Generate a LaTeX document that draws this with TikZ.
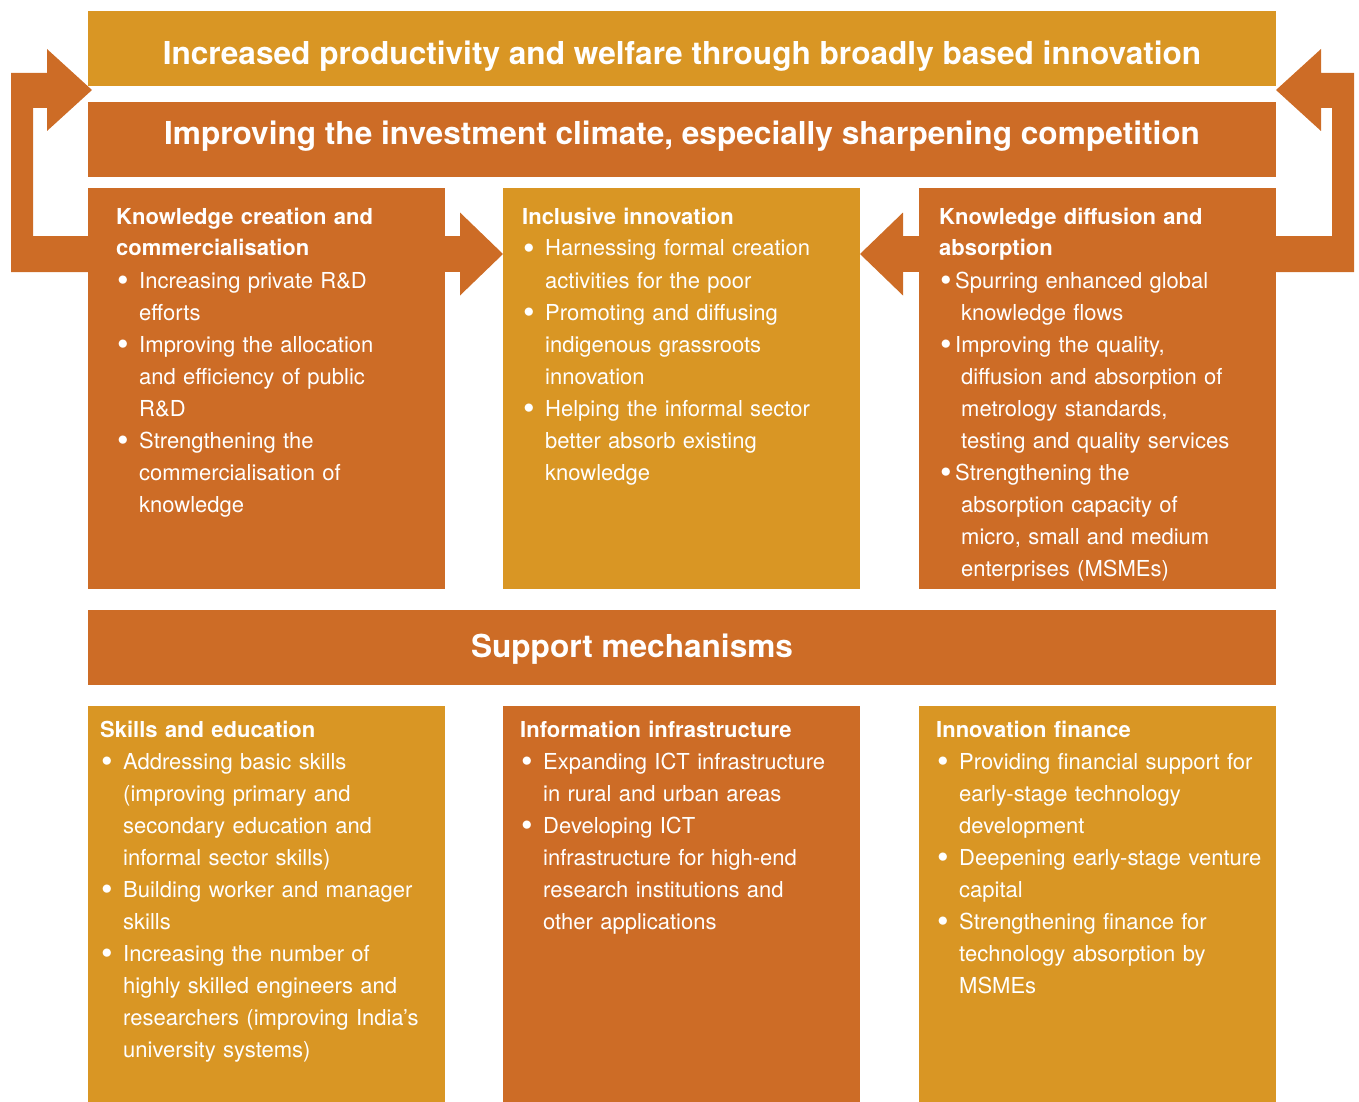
\documentclass[tikz,border=0pt]{standalone}
\usepackage{fontspec}
\usepackage{graphicx}
\setmainfont{TeX Gyre Heros}
\usetikzlibrary{positioning,arrows.meta}
\definecolor{gold}{RGB}{217,150,36}
\definecolor{rust}{RGB}{205,108,38}
\newcommand{\itm}[1][23pt]{\makebox[#1][l]{\hspace{1pt}\raisebox{-3.5pt}{\scalebox{1.5}{\textbullet}}}}
\newcommand{\ind}[1][23pt]{\hspace*{#1}}

\begin{document}
\begin{tikzpicture}[
        x=1pt, y=1pt,
        band/.style={rectangle, inner sep=0pt, outer sep=0pt, minimum width=1188pt, minimum height=75pt},
        cell/.style={rectangle, inner sep=0pt, outer sep=0pt, minimum width=357pt},
        bigtext/.style={inner sep=0pt, text=white, font=\fontsize{31.6}{38}\selectfont\bfseries},
        txt/.style={anchor=base west, inner sep=0pt, text width=340pt, align=left, text=white, font=\fontsize{22}{32}\selectfont},
        flow/.style={rust, line width=36pt, -{Triangle[length=43pt, width=83pt, line width=0pt]}},
        ]
        \useasboundingbox (0,0) rectangle (1359,-1102);

        % Top bands
        \node[band, fill=gold] (goal) at (682,-48.5) {};
        \node[band, fill=rust, below=16pt of goal] (climate) {};
        \node[bigtext, above=21pt of goal.south, anchor=base] (goaltext) {Increased productivity and welfare through broadly based innovation};
        \node[bigtext, above=32pt of climate.south, anchor=base] (climatetext) {Improving the investment climate, especially sharpening competition};

        % Three pillars
        \node[cell, fill=rust, minimum height=401pt, below=11pt of climate.south west, anchor=north west] (create) {};
        \node[cell, fill=gold, minimum height=401pt, right=58pt of create] (inclusive) {};
        \node[cell, fill=rust, minimum height=401pt, right=59pt of inclusive] (diffuse) {};

        \node[txt] (createtext) at ([shift={(28,-36)}]create.north west) {%
            \textbf{Knowledge creation and}\\
            \textbf{commercialisation}\\
            \itm Increasing private R\&D\\
            \ind efforts\\
            \itm Improving the allocation\\
            \ind and efficiency of public\\
            \ind R\&D\\
            \itm Strengthening the\\
            \ind commercialisation of\\
            \ind knowledge};
        \node[txt] (inclusivetext) at ([shift={(19,-36)}]inclusive.north west) {%
            \textbf{Inclusive innovation}\\
            \itm Harnessing formal creation\\
            \ind activities for the poor\\
            \itm Promoting and diffusing\\
            \ind indigenous grassroots\\
            \ind innovation\\
            \itm Helping the informal sector\\
            \ind better absorb existing\\
            \ind knowledge};
        \node[txt] (diffusetext) at ([shift={(20,-36)}]diffuse.north west) {%
            \textbf{Knowledge diffusion and}\\
            \textbf{absorption}\\
            \itm[16pt]Spurring enhanced global\\
            \ind[22pt]knowledge flows\\
            \itm[16pt]Improving the quality,\\
            \ind[22pt]diffusion and absorption of\\
            \ind[22pt]metrology standards,\\
            \ind[22pt]testing and quality services\\
            \itm[16pt]Strengthening the\\
            \ind[22pt]absorption capacity of\\
            \ind[22pt]micro, small and medium\\
            \ind[22pt]enterprises (MSMEs)};

        % Support mechanisms
        \node[band, fill=rust, below=21pt of create.south west, anchor=north west] (support) {};
        \node[bigtext, above=28pt of support.south, anchor=base, xshift=-50pt] (supporttext) {Support mechanisms};

        \node[cell, fill=gold, minimum height=396pt, below=21pt of support.south west, anchor=north west] (skills) {};
        \node[cell, fill=rust, minimum height=396pt, right=58pt of skills] (infra) {};
        \node[cell, fill=gold, minimum height=396pt, right=59pt of infra] (finance) {};

        \node[txt] (skillstext) at ([shift={(12,-31)}]skills.north west) {%
            \textbf{Skills and education}\\
            \itm Addressing basic skills\\
            \ind (improving primary and\\
            \ind secondary education and\\
            \ind informal sector skills)\\
            \itm Building worker and manager\\
            \ind skills\\
            \itm Increasing the number of\\
            \ind highly skilled engineers and\\
            \ind researchers (improving India’s\\
            \ind university systems)};
        \node[txt] (infratext) at ([shift={(17,-31)}]infra.north west) {%
            \textbf{Information infrastructure}\\
            \itm Expanding ICT infrastructure\\
            \ind in rural and urban areas\\
            \itm Developing ICT\\
            \ind infrastructure for high-end\\
            \ind research institutions and\\
            \ind other applications};
        \node[txt] (financetext) at ([shift={(17,-31)}]finance.north west) {%
            \textbf{Innovation finance}\\
            \itm Providing financial support for\\
            \ind early-stage technology\\
            \ind development\\
            \itm Deepening early-stage venture\\
            \ind capital\\
            \itm Strengthening finance for\\
            \ind technology absorption by\\
            \ind MSMEs};

        % Arrows into the middle pillar
        \draw[flow] ([yshift=-66pt]create.north east) -- ([yshift=-66pt]inclusive.north west);
        \draw[flow] ([yshift=-66pt]diffuse.north west) -- ([yshift=-66pt]inclusive.north east);

        % Feedback loops up to the top band
        \fill[rust] ([yshift=-84pt]create.north west) -- ++(-77,0) -- ++(0,199) -- ++(36,0) -- ++(0,24)
            -- ++(45,-41) -- ++(-45,-41) -- ++(0,23) -- ++(-14,0) -- ++(0,-128) -- ++(55,0) -- cycle;
        \fill[rust] ([yshift=-84pt]diffuse.north east) -- ++(78,0) -- ++(0,199) -- ++(-33,0) -- ++(0,24)
            -- ++(-45,-41) -- ++(45,-41) -- ++(0,23) -- ++(11,0) -- ++(0,-128) -- ++(-56,0) -- cycle;

    \end{tikzpicture}
\end{document}
